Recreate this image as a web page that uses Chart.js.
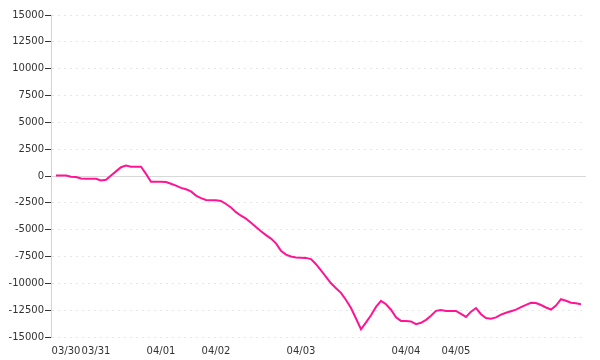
<!DOCTYPE html>
<html>
<head>
<meta charset="utf-8">
<style>
  html, body { margin: 0; padding: 0; background: #ffffff; }
  #wrap { width: 600px; height: 360px; position: relative; }
</style>
<script src="https://cdn.jsdelivr.net/npm/chart.js@4.4.1/dist/chart.umd.min.js"></script>
</head>
<body>
<div id="wrap"><canvas id="c" width="600" height="360"></canvas></div>
<script>
// ---- data ----
const values = [
  50, 50, 50, -60, -90, -230, -250, -250, -260, -420,
  -350, 40, 430, 820, 970, 870, 870, 870, 200, -530,
  -530, -530, -560, -720, -890, -1110, -1240, -1440, -1820, -2060,
  -2240, -2270, -2270, -2330, -2610, -2940, -3370, -3700, -3970, -4360,
  -4760, -5140, -5510, -5830, -6280, -6980, -7320, -7500, -7600, -7610,
  -7630, -7740, -8220, -8800, -9400, -10000, -10450, -10890, -11550, -12300,
  -13280, -14280, -13640, -12980, -12200, -11640, -11950, -12460, -13170, -13500,
  -13500, -13550, -13800, -13680, -13400, -13020, -12560, -12480, -12570, -12570,
  -12570, -12850, -13130, -12640, -12300, -12880, -13240, -13290, -13170, -12920,
  -12740, -12600, -12450, -12210, -12000, -11820, -11830, -12020, -12250, -12440,
  -12070, -11480, -11620, -11800, -11850, -11940
];
const dateLabels  = ['03/30', '03/31', '04/01', '04/02', '04/03', '04/04', '04/05'];
const dateIndices = [3, 9, 22, 33, 50, 71, 81];
const yMin = -15000;
const yMax = 15000;
const yStep = 2500;

// category slots: one empty slot before and after the series
const slotCount = values.length + 2;
const labels = new Array(slotCount).fill('');
dateIndices.forEach((idx, k) => { labels[idx] = dateLabels[k]; });
const series = [null].concat(values, [null]);

const FONT = { family: 'DejaVu Sans', size: 10 };
const AXIS_GRAY = '#d4d4d4';

new Chart(document.getElementById('c'), {
  type: 'line',
  data: {
    labels: labels,
    datasets: [{
      data: series,
      borderColor: '#ff1493',
      borderWidth: 2,
      pointRadius: 0,
      pointHoverRadius: 0,
      tension: 0,
      fill: false,
      spanGaps: false
    }]
  },
  options: {
    responsive: false,
    animation: false,
    events: [],
    layout: { padding: { top: 15, right: 14, left: 0, bottom: 0 } },
    plugins: { legend: { display: false }, tooltip: { enabled: false } },
    scales: {
      x: {
        type: 'category',
        grid: { display: false, drawTicks: false },
        border: { display: false },
        ticks: {
          autoSkip: false,
          maxRotation: 0,
          minRotation: 0,
          padding: 8,
          color: '#333333',
          font: FONT
        },
        afterFit: (s) => { s.height = 23; }
      },
      y: {
        min: yMin,
        max: yMax,
        grid: {
          color: (ctx) => (ctx.tick && ctx.tick.value === 0) ? '#d8d8d8' : '#e6e6e6',
          lineWidth: 1,
          drawTicks: true,
          tickLength: 6,
          tickColor: '#333333',
          tickBorderDash: []
        },
        border: {
          display: true,
          color: AXIS_GRAY,
          width: 1,
          dash: (ctx) => (ctx.tick && ctx.tick.value === 0) ? [] : [2, 4]
        },
        ticks: {
          stepSize: yStep,
          padding: 1,
          color: '#333333',
          font: FONT,
          callback: (v) => String(v)
        },
        afterFit: (s) => { s.width = 51; }
      }
    }
  }
});
</script>
</body>
</html>
